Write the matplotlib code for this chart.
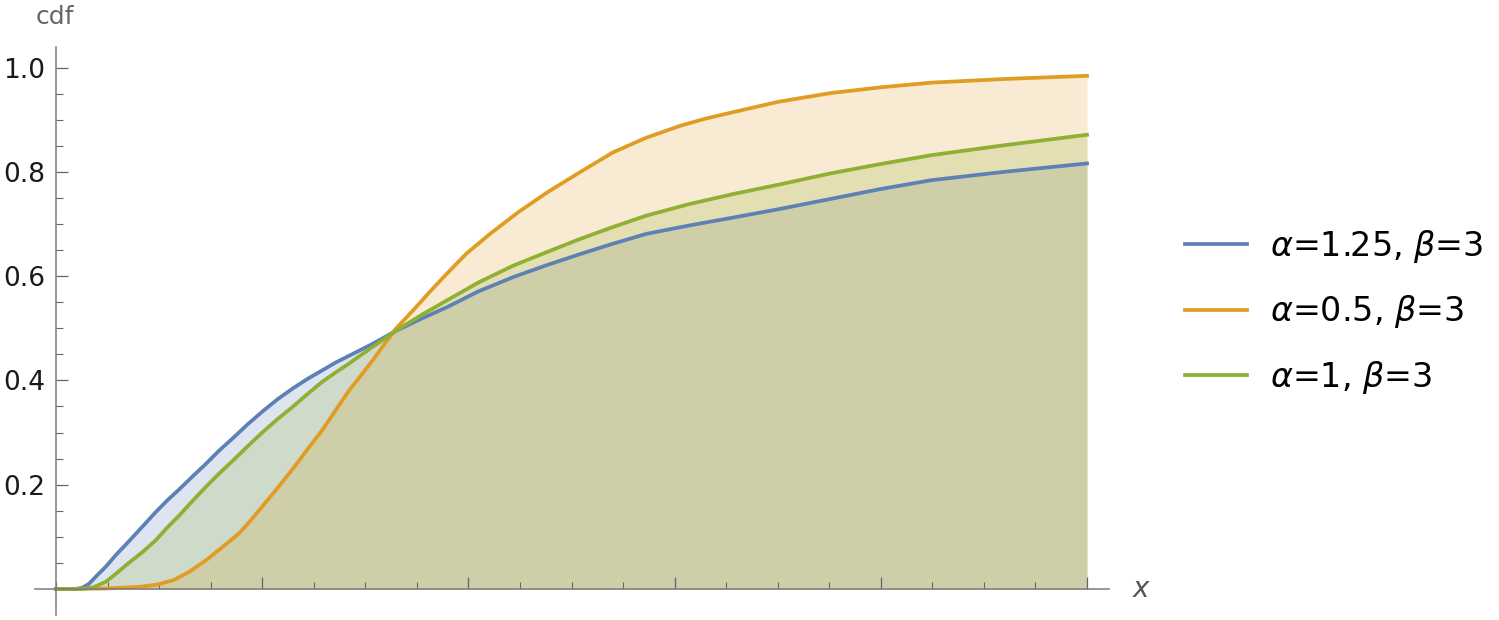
import numpy as np
import matplotlib
matplotlib.use('Agg')
import matplotlib.pyplot as plt
from matplotlib.ticker import MultipleLocator, FixedLocator, NullFormatter

plt.rcParams['font.family'] = ['DejaVu Sans']
plt.rcParams['mathtext.fontset'] = 'dejavusans'

# valores (eje x en unidades de marca mayor)
x_blue = [0, 0.10, 0.13, 0.16, 0.194, 0.242, 0.29, 0.35, 0.42, 0.485, 0.54, 0.60, 0.66, 0.727,
          0.79, 0.86, 0.93, 1.0, 1.075, 1.15, 1.22, 1.29, 1.355, 1.42, 1.48, 1.535, 1.59, 1.648,
          1.77, 1.894, 2.05, 2.217, 2.38, 2.54, 2.70, 2.863, 3.07, 3.28, 3.5, 3.757, 4.0, 4.247,
          4.6, 5.0]
y_blue = [0, 0, 0.003, 0.010, 0.024, 0.043, 0.065, 0.09, 0.12, 0.148, 0.170, 0.192, 0.215, 0.24,
          0.265, 0.29, 0.316, 0.340, 0.364, 0.385, 0.403, 0.419, 0.434, 0.447, 0.459, 0.47, 0.482,
          0.495, 0.518, 0.540, 0.571, 0.598, 0.621, 0.642, 0.662, 0.681, 0.697, 0.712, 0.728,
          0.748, 0.767, 0.784, 0.80, 0.816]

x_orange = [0, 0.242, 0.40, 0.485, 0.57, 0.646, 0.727, 0.80, 0.889, 0.945, 1.0, 1.075, 1.15, 1.22,
            1.29, 1.355, 1.42, 1.48, 1.535, 1.59, 1.648, 1.745, 1.82, 1.894, 1.99, 2.105, 2.24,
            2.38, 2.54, 2.70, 2.86, 3.025, 3.15, 3.28, 3.5, 3.757, 4.0, 4.247, 4.6, 5.0]
y_orange = [0, 0.001, 0.004, 0.008, 0.017, 0.033, 0.055, 0.078, 0.107, 0.132, 0.158, 0.194, 0.231,
            0.268, 0.304, 0.342, 0.38, 0.41, 0.438, 0.468, 0.499, 0.54, 0.573, 0.604, 0.643, 0.681,
            0.722, 0.760, 0.799, 0.837, 0.865, 0.888, 0.902, 0.914, 0.934, 0.951, 0.962, 0.971,
            0.978, 0.984]

x_green = [0, 0.13, 0.18, 0.242, 0.29, 0.35, 0.42, 0.485, 0.54, 0.60, 0.66, 0.727, 0.79, 0.86, 0.93,
           1.0, 1.075, 1.15, 1.22, 1.29, 1.355, 1.42, 1.48, 1.535, 1.59, 1.648, 1.77, 1.894, 2.05,
           2.217, 2.38, 2.54, 2.70, 2.863, 3.07, 3.28, 3.5, 3.757, 4.0, 4.247, 4.6, 5.0]
y_green = [0, 0, 0.003, 0.014, 0.029, 0.049, 0.071, 0.094, 0.118, 0.142, 0.168, 0.196, 0.221, 0.247,
           0.274, 0.30, 0.326, 0.35, 0.374, 0.397, 0.415, 0.432, 0.449, 0.464, 0.479, 0.495, 0.525,
           0.553, 0.588, 0.62, 0.646, 0.671, 0.694, 0.716, 0.738, 0.757, 0.775, 0.797, 0.815,
           0.832, 0.851, 0.871]

etiquetas = [r'$\alpha$=1.25, $\beta$=3', r'$\alpha$=0.5, $\beta$=3', r'$\alpha$=1, $\beta$=3']
colores = ['#5E81B5', '#E19C24', '#8FB032']
yticks_major = [0.2, 0.4, 0.6, 0.8, 1.0]
xticks_major = [1, 2, 3, 4, 5]

series = [(x_blue, y_blue), (x_orange, y_orange), (x_green, y_green)]

#%%
fig = plt.figure(figsize=(14.99, 6.2), dpi=100)
ax = fig.add_axes([35/1499, 1-615/620, (1109-35)/1499, (615-47)/620])

# rellenos hasta el eje
for (xs, ys), c in zip(series, colores):
    ax.fill_between(xs, 0, ys, color=c, alpha=0.2, lw=0)
lineas = []
for (xs, ys), c, lab in zip(series, colores, etiquetas):
    l, = ax.plot(xs, ys, color=c, lw=2.7, label=lab, solid_joinstyle='round')
    lineas.append(l)

ax.set_xlim((35-56)/206.2, (1109-56)/206.2)
ax.set_ylim(-(615-589)/521.5, (589-47)/521.5)

for s in ['top', 'right']:
    ax.spines[s].set_visible(False)
ax.spines['left'].set_position(('data', 0))
ax.spines['bottom'].set_position(('data', 0))
for s in ['left', 'bottom']:
    ax.spines[s].set_color('#7a7a7a')
    ax.spines[s].set_linewidth(1.1)

ax.yaxis.set_major_locator(FixedLocator(yticks_major))
ax.yaxis.set_minor_locator(MultipleLocator(0.05))
ax.set_yticklabels(['%.1f' % v for v in yticks_major])
ax.xaxis.set_major_locator(FixedLocator(xticks_major))
ax.xaxis.set_minor_locator(MultipleLocator(0.25))
ax.xaxis.set_major_formatter(NullFormatter())
ax.tick_params(axis='both', which='major', direction='in', length=8.4, width=0.9, color='#666666')
ax.tick_params(axis='both', which='minor', direction='in', length=5, width=0.8, color='#666666')
ax.tick_params(axis='y', which='major', labelsize=19, pad=8, labelcolor='#1a1a1a')
ax.patch.set_alpha(0)

fig.text(55/1499, 1-24/620, 'cdf', ha='center', va='baseline', fontsize=18, color='#666666')
fig.text(1133/1499, 1-597/620, 'x', ha='left', va='baseline', fontsize=20, style='italic', color='#555555')

fig.legend(handles=lineas, loc='center left', bbox_to_anchor=(1185/1499, 1-312/620),
           frameon=False, fontsize=24, handlelength=1.85, handletextpad=0.7,
           labelspacing=0.85, borderpad=0, borderaxespad=0)

plt.savefig('out.png', dpi=100)
